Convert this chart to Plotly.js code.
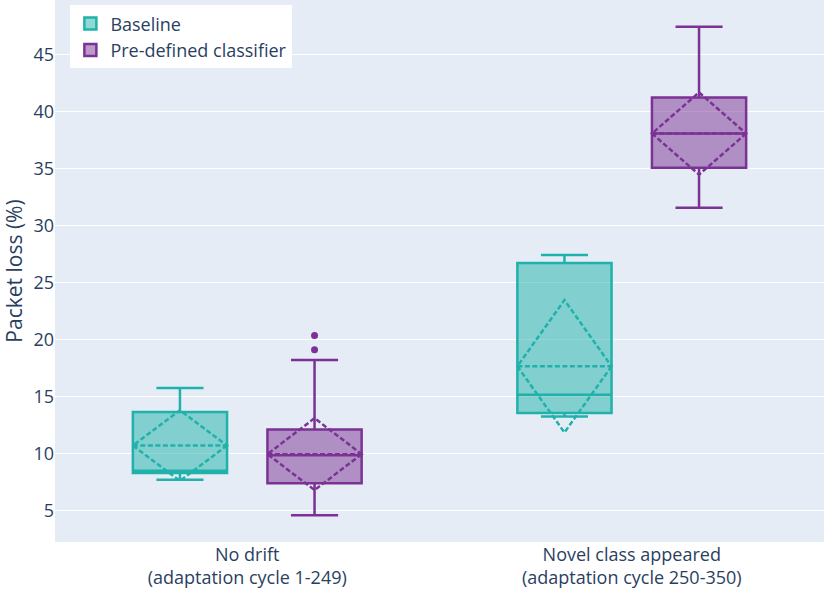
<!DOCTYPE html>
<html>
<head>
<meta charset="utf-8">
<script src="https://cdn.plot.ly/plotly-3.0.1.min.js"></script>
<style>
  body { margin: 0; }
  #grafico { width: 830px; height: 595px; }
</style>
</head>
<body>
<div id="grafico"></div>
<script>
// categorias do eixo x
let categorias = ["No drift<br>(adaptation cycle 1-249)", "Novel class appeared<br>(adaptation cycle 250-350)"];

// estatisticas (Baseline)
let baseQ1 = [8.3, 13.55];
let baseMediana = [8.5, 15.15];
let baseQ3 = [13.65, 26.7];
let baseMin = [7.7, 13.25];
let baseMax = [15.75, 27.4];
let baseMedia = [10.7, 17.65];
let baseDesvio = [3.1, 5.8];

// estatisticas (Pre-defined classifier)
let preQ1 = [7.4, 35.05];
let preMediana = [9.85, 38.05];
let preQ3 = [12.1, 41.2];
let preMin = [4.6, 31.55];
let preMax = [18.2, 47.4];
let preMedia = [9.95, 38.05];
let preDesvio = [3.15, 3.6];
let preOutliers = [[20.35, 19.1], []];

var trace1 = {
  type: "box",
  name: "Baseline",
  x: categorias,
  q1: baseQ1,
  median: baseMediana,
  q3: baseQ3,
  lowerfence: baseMin,
  upperfence: baseMax,
  mean: baseMedia,
  sd: baseDesvio,
  boxmean: "sd",
  marker: { color: "#20B2AA" },
  line: { color: "#20B2AA", width: 2.5 },
};

var trace2 = {
  type: "box",
  name: "Pre-defined classifier",
  x: categorias,
  y: preOutliers,
  q1: preQ1,
  median: preMediana,
  q3: preQ3,
  lowerfence: preMin,
  upperfence: preMax,
  mean: preMedia,
  sd: preDesvio,
  boxmean: "sd",
  boxpoints: "outliers",
  marker: { color: "#7B3294", size: 7 },
  line: { color: "#7B3294", width: 2.5 },
};

var data = [trace1, trace2];

var layout = {
  boxmode: "group",
  font: { family: "Open Sans", color: "#2a3f5f", size: 18 },
  plot_bgcolor: "#E5ECF6",
  paper_bgcolor: "white",
  margin: { l: 55, r: 6, t: 0, b: 53 },
  showlegend: true,
  legend: {
    x: 0.02,
    y: 0.99,
    xanchor: "left",
    yanchor: "top",
    bgcolor: "white",
    font: { size: 18 },
  },
  xaxis: {
    type: "category",
    showgrid: false,
    tickfont: { size: 18 },
  },
  yaxis: {
    title: { text: "Packet loss (%)", font: { size: 21 } },
    range: [2.25, 49.75],
    dtick: 5,
    gridcolor: "white",
    zeroline: false,
    tickfont: { size: 18 },
  },
};

var config = { responsive: false, displayModeBar: false };

Plotly.newPlot("grafico", data, layout, config);
</script>
</body>
</html>
